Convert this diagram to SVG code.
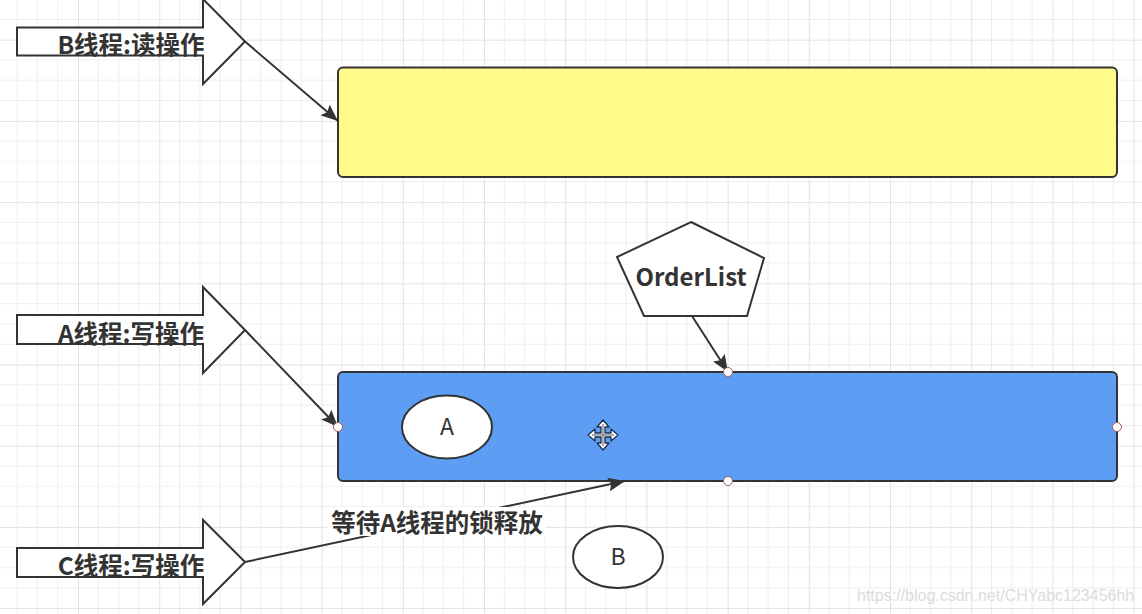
<svg xmlns="http://www.w3.org/2000/svg" width="1142" height="614" viewBox="0 0 1142 614">
  <defs>
    <pattern id="grid" patternUnits="userSpaceOnUse" x="-3.2" y="-41.5" width="81.2" height="81.2">
      <path d="M20.3,0 V81.2 M40.6,0 V81.2 M60.9,0 V81.2 M0,20.3 H81.2 M0,40.6 H81.2 M0,60.9 H81.2" stroke="#eeeeee" stroke-width="1" fill="none"/>
      <path d="M0.5,0 V81.2 M0,0.5 H81.2" stroke="#e3e3e3" stroke-width="1" fill="none"/>
    </pattern>
    <marker id="arr" markerUnits="userSpaceOnUse" markerWidth="18" markerHeight="14" refX="17" refY="7" orient="auto">
      <path d="M0,0 L17,7 L0,14 L3,7 Z" fill="#333333"/>
    </marker>
    <style>
      .big { fill: #ffffff; stroke: #333333; stroke-width: 2; stroke-linejoin: miter; }
      .lbl { font-family: "Noto Sans CJK SC", "Noto Sans", sans-serif; font-weight: bold; font-size: 24.5px; fill: #333333; text-anchor: middle; }
      .ol { font-size: 24px; }
      .ell { fill: #ffffff; stroke: #333333; stroke-width: 2; }
      .etxt { font-family: "Noto Sans CJK SC", "Noto Sans", sans-serif; font-size: 23px; fill: #333333; text-anchor: middle; }
      .box { stroke: #333333; stroke-width: 2; }
      .conn { stroke: #333333; stroke-width: 2; fill: none; marker-end: url(#arr); }
      .handle { fill: #ffffff; stroke: #a05a5a; stroke-width: 1; }
    </style>
  </defs>
  <rect x="0" y="0" width="1142" height="614" fill="#ffffff"/>
  <rect x="0" y="0" width="1142" height="614" fill="url(#grid)"/>

  <g id="yellow-box">
    <rect class="box" x="338" y="67.5" width="779" height="109.5" rx="5" fill="#fffa8a"/>
  </g>

  <g id="blue-box">
    <rect class="box" x="338" y="372" width="779" height="109" rx="5" fill="#5d9ef4"/>
  </g>

  <g id="thread-b">
    <polygon class="big" points="17,27.5 203,27.5 203,-1 245,41.5 203,84 203,55.5 17,55.5"/>
    <text class="lbl" x="131" y="53.5">B线程:读操作</text>
  </g>

  <g id="thread-a">
    <polygon class="big" points="17,315 203,315 203,287 245,330 203,373 203,344 17,344"/>
    <text class="lbl" x="131" y="342.5">A线程:写操作</text>
  </g>

  <g id="thread-c">
    <polygon class="big" points="17,548 203,548 203,520 245,562 203,604 203,577 17,577"/>
    <text class="lbl" x="131" y="574.5">C线程:写操作</text>
  </g>

  <g id="orderlist">
    <polygon class="big" points="691,222 764,258 747,316 644,316 617,257"/>
    <text class="lbl ol" x="691" y="285.5">OrderList</text>
  </g>

  <g id="node-a">
    <ellipse class="ell" cx="447" cy="427" rx="45" ry="31.5"/>
    <text class="etxt" x="447" y="435">A</text>
  </g>

  <g id="node-b">
    <ellipse class="ell" cx="618" cy="557" rx="45" ry="31"/>
    <text class="etxt" x="618" y="565">B</text>
  </g>

  <g id="connectors">
    <line class="conn" x1="245" y1="41.5" x2="338" y2="121"/>
    <line class="conn" x1="245" y1="330" x2="338" y2="427"/>
    <line class="conn" x1="692" y1="316" x2="728" y2="372"/>
    <line class="conn" x1="245" y1="562" x2="625" y2="481"/>
    <rect x="328" y="507" width="218" height="29" fill="#ffffff"/>
    <text class="lbl" x="437" y="532">等待A线程的锁释放</text>
  </g>

  <g id="handles">
    <circle class="handle" cx="338" cy="427" r="4.5"/>
    <circle class="handle" cx="728" cy="372" r="4.5"/>
    <circle class="handle" cx="1117" cy="427" r="4.5"/>
    <circle class="handle" cx="728" cy="481" r="4.5"/>
  </g>

  <g id="move-cursor" transform="translate(603,435)">
    <path d="M0,-15 L-6,-8 L-2,-8 L-2,-2 L-8,-2 L-8,-6 L-15,0 L-8,6 L-8,2 L-2,2 L-2,8 L-6,8 L0,15 L6,8 L2,8 L2,2 L8,2 L8,6 L15,0 L8,-6 L8,-2 L2,-2 L2,-8 L6,-8 Z" fill="#ffffff" stroke="#1f2f4f" stroke-width="1.3" stroke-linejoin="round"/>
    <path d="M0,-11 V11 M-11,0 H11" stroke="#4a5a70" stroke-width="1"/>
  </g>

  <text x="857" y="601" font-family="Liberation Sans, Arial, sans-serif" font-size="16" fill="#dcdcdc">https://blog.csdn.net/CHYabc123456hh</text>
</svg>
